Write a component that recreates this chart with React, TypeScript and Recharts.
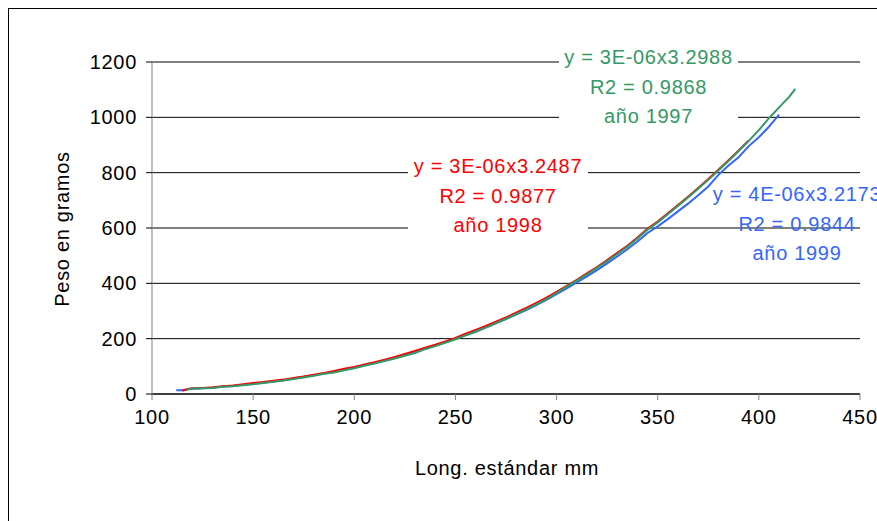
import { LineChart, Line, XAxis, YAxis, CartesianGrid } from "recharts";

// longitud estándar (mm) y peso (g) por año
const blueLength = [
  112, 115, 120, 125, 130, 135, 140, 145, 150, 155,
  160, 165, 170, 175, 180, 185, 190, 195, 200, 205,
  210, 215, 220, 225, 230, 235, 240, 245, 250, 255,
  260, 265, 270, 275, 280, 285, 290, 295, 300, 305,
  310, 315, 320, 325, 330, 335, 340, 345, 350, 355,
  360, 365, 370, 375, 380, 385, 390, 395, 400, 405,
  410,
];
const blueWeight = [
  14, 14, 19, 21, 23, 27, 29, 33, 37, 41,
  45, 50, 56, 62, 68, 74, 80, 88, 96, 104,
  112, 121, 130, 140, 151, 163, 175, 187, 199, 212,
  225, 240, 255, 271, 287, 303, 321, 340, 361, 382,
  403, 425, 448, 472, 497, 523, 551, 582, 606, 632,
  660, 688, 718, 750, 792, 826, 856, 896, 928, 966,
  1010,
];

const redLength = [
  115, 118, 120, 125, 130, 135, 140, 145, 150, 155,
  160, 165, 170, 175, 180, 185, 190, 195, 200, 205,
  210, 215, 220, 225, 230, 235, 240, 245, 250, 255,
  260, 265, 270, 275, 280, 285, 290, 295, 300, 305,
  310, 315, 320, 325, 330, 335, 340, 345, 350, 355,
  360, 365, 370, 375, 380, 385, 390, 395,
];
const redWeight = [
  12, 19, 21, 22, 24, 28, 31, 35, 40, 43,
  48, 52, 58, 63, 70, 76, 83, 91, 98, 107,
  115, 124, 134, 145, 156, 167, 178, 190, 203, 218,
  232, 246, 261, 277, 294, 311, 329, 348, 369, 391,
  413, 436, 459, 484, 510, 536, 566, 598, 623, 653,
  683, 713, 745, 777, 811, 845, 880, 916,
];

const greenLength = [
  117, 120, 125, 130, 135, 140, 145, 150, 155, 160,
  165, 170, 175, 180, 185, 190, 195, 200, 205, 210,
  215, 220, 225, 230, 235, 240, 245, 250, 255, 260,
  265, 270, 275, 280, 285, 290, 295, 300, 305, 310,
  315, 320, 325, 330, 335, 340, 345, 350, 355, 360,
  365, 370, 375, 380, 385, 390, 395, 400, 405, 410,
  415, 418,
];
const greenWeight = [
  16, 20, 21, 22, 26, 28, 32, 35, 40, 44,
  49, 54, 60, 66, 73, 78, 86, 93, 102, 110,
  119, 128, 138, 148, 162, 173, 185, 198, 212, 226,
  240, 256, 272, 289, 306, 324, 343, 365, 388, 410,
  432, 456, 480, 506, 532, 562, 594, 620, 650, 680,
  710, 742, 774, 808, 842, 878, 915, 954, 997, 1036,
  1074, 1103,
];

const xTicks = [100, 150, 200, 250, 300, 350, 400, 450];
const yTicks = [0, 200, 400, 600, 800, 1000, 1200];

const greenText = ["y = 3E-06x3.2988", "R2 = 0.9868", "año 1997"];
const redText = ["y = 3E-06x3.2487", "R2 = 0.9877", "año 1998"];
const blueText = ["y = 4E-06x3.2173", "R2 = 0.9844", "año 1999"];

const toPoints = (len: number[], w: number[]) =>
  len.map((l, i) => ({ len: l, w: w[i] }));

const blueData = toPoints(blueLength, blueWeight);
const redData = toPoints(redLength, redWeight);
const greenData = toPoints(greenLength, greenWeight);

const GREEN = "#339966";
const RED = "#ff0000";
const BLUE = "#3366ff";

const font = {
  fontFamily: "'Liberation Sans', Arial, sans-serif",
  fontSize: 20,
  letterSpacing: "0.7px",
};

const tickStyle = { ...font, fill: "#000" };

function Note({ lines, color, left, top, width, bg }: any) {
  return (
    <div
      style={{
        position: "absolute",
        left,
        top,
        width,
        lineHeight: "29.7px",
        textAlign: "center",
        color,
        background: bg ? "#fff" : "transparent",
        whiteSpace: "nowrap",
        ...font,
      }}
    >
      {lines.map((t: string) => (
        <div key={t}>{t}</div>
      ))}
    </div>
  );
}

export default function App() {
  return (
    <div
      style={{
        position: "fixed",
        left: 8,
        top: 8,
        width: 869,
        height: 513,
        overflow: "hidden",
        background: "#fff",
        boxSizing: "border-box",
        borderLeft: "1px solid #000",
        borderTop: "1px solid #000",
      }}
    >
      <style>{`html{overflow:hidden}`}</style>
      <div style={{ position: "absolute", left: -1, top: -1 }}>
        <LineChart
          width={869}
          height={513}
          margin={{ top: 54, right: 17, left: 84, bottom: 87 }}
        >
          <CartesianGrid vertical={false} stroke="#000" strokeWidth={1} />
          <XAxis
            type="number"
            dataKey="len"
            domain={[100, 450]}
            ticks={xTicks}
            height={40}
            tickSize={6}
            tickMargin={10}
            axisLine={{ stroke: "#000" }}
            tickLine={{ stroke: "#808080" }}
            tick={tickStyle}
            allowDuplicatedCategory={false}
          />
          <YAxis
            type="number"
            domain={[0, 1200]}
            ticks={yTicks}
            width={60}
            tickSize={6}
            tickMargin={9}
            axisLine={{ stroke: "#808080" }}
            tickLine={{ stroke: "#000" }}
            tick={tickStyle}
          />
          <Line
            data={blueData}
            dataKey="w"
            stroke={BLUE}
            strokeWidth={2}
            dot={false}
            isAnimationActive={false}
          />
          <Line
            data={redData}
            dataKey="w"
            stroke={RED}
            strokeWidth={2}
            dot={false}
            isAnimationActive={false}
          />
          <Line
            data={greenData}
            dataKey="w"
            stroke={GREEN}
            strokeWidth={2}
            dot={false}
            isAnimationActive={false}
          />
        </LineChart>
      </div>

      <Note lines={greenText} color={GREEN} left={550} top={34} width={179} bg />
      <Note lines={redText} color={RED} left={399} top={143} width={180} bg />
      <Note lines={blueText} color={BLUE} left={688} top={171} width={200} />

      <div
        style={{
          position: "absolute",
          left: 53,
          top: 220,
          transform: "translate(-50%, -50%) rotate(-90deg)",
          whiteSpace: "nowrap",
          lineHeight: "20px",
          ...font,
        }}
      >
        Peso en gramos
      </div>
      <div
        style={{
          position: "absolute",
          left: 498,
          top: 459,
          transform: "translate(-50%, -50%)",
          whiteSpace: "nowrap",
          lineHeight: "20px",
          ...font,
        }}
      >
        Long. estándar mm
      </div>
    </div>
  );
}
